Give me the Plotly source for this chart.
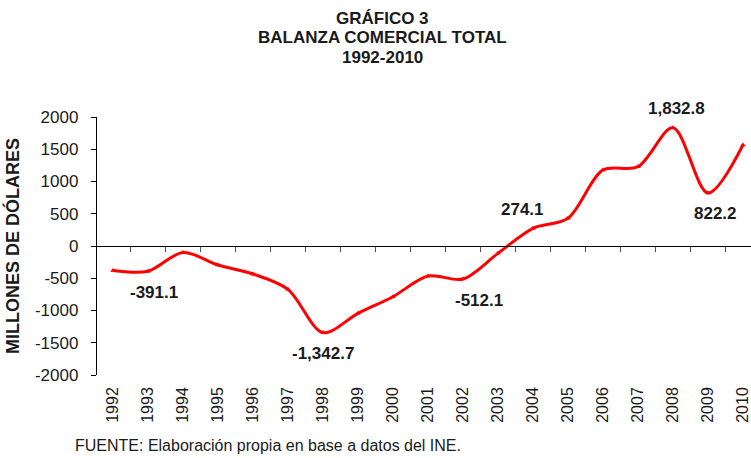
import plotly.graph_objects as go

years = [str(y) for y in range(1992, 2011)]
balanza = [-380, -391.1, -100, -295, -434, -672, -1342.7, -1044, -786, -465,
           -512.1, -114, 274.1, 429, 1178, 1230, 1832.8, 822.2, 1566]

# labelled points: (year, position)
label_years = ["1993", "1998", "2002", "2004", "2008", "2009"]
label_pos = ["below", "below", "below", "above", "above", "below"]
label_xshift = [6, 0, 16, -10, 4, 8]

y_ticks = [2000, 1500, 1000, 500, 0, -500, -1000, -1500, -2000]

FONT = "Liberation Sans, Arial, sans-serif"
W, H = 751, 458
L, R, T, B = 97, 0, 117, 83
PW, PH = W - L - R, H - T - B

fig = go.Figure()
fig.add_trace(go.Scatter(
    x=years, y=balanza, mode="lines+markers",
    line=dict(color="#ff0000", width=3, shape="spline", smoothing=0.9),
    marker=dict(color="#ff0000", size=5, symbol="triangle-up"),
    showlegend=False, hoverinfo="x+y",
))

for yr, pos, xs in zip(label_years, label_pos, label_xshift):
    i = years.index(yr)
    v = balanza[i]
    fig.add_annotation(
        x=i, y=v, text=f"{v:,.1f}", showarrow=False,
        font=dict(family=FONT, size=17, color="#1a1a1a", weight="bold"),
        xshift=xs, yshift=(-21 if pos == "below" else 19),
    )

fig.update_layout(
    width=W, height=H,
    margin=dict(l=L, r=R, t=T, b=B, autoexpand=False),
    paper_bgcolor="white", plot_bgcolor="white",
    font=dict(family=FONT, size=17, color="#1a1a1a"),
    xaxis=dict(
        type="category", range=[-0.457, 18.23], automargin=False,
        showline=False, ticks="", showgrid=False, zeroline=False,
        tickangle=-90, tickfont=dict(size=16), ticklabelstandoff=8,
    ),
    xaxis2=dict(
        type="category", range=[-0.457, 18.23], overlaying="x",
        anchor="free", position=0.5, side="bottom", automargin=False,
        showline=True, linecolor="#000", linewidth=1.3,
        ticks="outside", ticklen=5, tickcolor="#555", tickwidth=1,
        tickson="boundaries", showticklabels=False, showgrid=False,
        zeroline=False, matches="x",
    ),
    yaxis=dict(
        range=[-2000, 2000], tickvals=y_ticks, ticktext=[str(v) for v in y_ticks],
        showline=True, linecolor="#000", linewidth=1.3, automargin=False,
        ticks="outside", ticklen=5, tickcolor="#000", ticklabelstandoff=9,
        showgrid=False, zeroline=False, tickfont=dict(size=17),
        title=dict(text="MILLONES DE DÓLARES", standoff=10,
                   font=dict(size=18, weight="bold")),
    ),
)

# dummy trace to activate xaxis2
fig.add_trace(go.Scatter(x=years, y=[None] * len(years), xaxis="x2",
                         showlegend=False, hoverinfo="skip"))

for txt, ypx in [("GRÁFICO 3", 18), ("BALANZA COMERCIAL TOTAL", 38), ("1992-2010", 57)]:
    fig.add_annotation(
        text=txt, xref="paper", yref="paper", x=(382 - L) / PW,
        y=1 + (T - ypx) / PH, xanchor="center", yanchor="middle",
        showarrow=False,
        font=dict(family=FONT, size=17, color="#1a1a1a", weight="bold"),
    )

fig.add_annotation(
    text="FUENTE: Elaboración propia en base a datos del INE.",
    xref="paper", yref="paper", x=(73 - L) / PW, y=-(445 - (H - B)) / PH,
    xanchor="left", yanchor="middle",
    showarrow=False, font=dict(size=16, color="#1a1a1a"),
)

fig.write_html(
    "out.html",
    config={"displayModeBar": False},
    post_script="document.body.style.margin='0';document.body.style.padding='0';",
)
